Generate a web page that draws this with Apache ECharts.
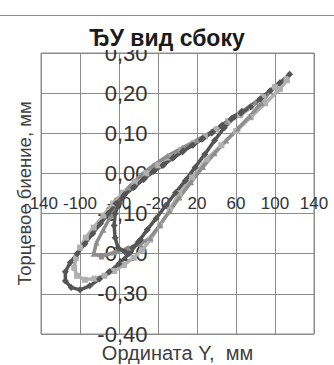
<!DOCTYPE html>
<html><head><meta charset="utf-8">
<script src="https://cdn.jsdelivr.net/npm/echarts@6/dist/echarts.min.js"></script>
<style>html,body{margin:0;padding:0;background:#fff}#c{width:334px;height:365px}</style>
</head><body><div id="c"></div>
<script>
const titleText = "ЂУ вид сбоку";
const xName = "Ордината Y,  мм";
const yName = "Торцевое биение, мм";
const xMin = -140, xMax = 140, xStep = 40;
const yMin = -0.4, yMax = 0.3, yStep = 0.1;

const lightX = [112,100,88,76,64,52,40,28,16,4,-8,-20,-32,-44,-56,-66,-76,-86,-94,-100,-104,-106,-103,-95,-85,-75,-65,-55,-45,-36,-28,-18,-8,2,15,30,45,60,75,90,105,112];
const lightY = [0.235,0.215,0.19,0.165,0.145,0.13,0.11,0.092,0.075,0.058,0.04,0.02,0.0,-0.022,-0.048,-0.075,-0.105,-0.135,-0.16,-0.185,-0.21,-0.235,-0.255,-0.265,-0.262,-0.255,-0.243,-0.228,-0.21,-0.19,-0.165,-0.13,-0.09,-0.05,-0.01,0.035,0.07,0.105,0.14,0.175,0.21,0.232];

const medX = [95,80,65,50,35,20,5,-10,-25,-38,-50,-60,-68,-76,-83,-86,-78,-65,-50,-38,-28,-18,-8,2,14,26,38,50,62,74,86,95];
const medY = [0.205,0.178,0.152,0.128,0.104,0.083,0.064,0.044,0.02,-0.005,-0.035,-0.07,-0.105,-0.14,-0.172,-0.2,-0.207,-0.197,-0.186,-0.176,-0.16,-0.128,-0.094,-0.06,-0.022,0.016,0.05,0.082,0.112,0.142,0.175,0.205];

const darkX = [115,105,95,85,75,65,55,45,35,25,15,5,-5,-15,-25,-35,-45,-55,-63,-71,-79,-87,-95,-103,-110,-115,-115,-109,-100,-90,-80,-70,-60,-50,-40,-31,-22,-12,-2,8,18,28,38,48,58,66,56,46,36,26,16,6,-4,-14,-24,-34,-44,-54,-60,-64,-65,-64,-61,-54,-46,-38];
const darkY = [0.247,0.226,0.206,0.186,0.166,0.15,0.135,0.118,0.101,0.085,0.07,0.054,0.038,0.02,0.005,-0.015,-0.035,-0.055,-0.075,-0.1,-0.125,-0.15,-0.175,-0.2,-0.222,-0.245,-0.268,-0.284,-0.29,-0.28,-0.263,-0.245,-0.225,-0.2,-0.17,-0.14,-0.112,-0.08,-0.048,-0.018,0.015,0.048,0.082,0.114,0.14,0.155,0.138,0.12,0.103,0.087,0.071,0.056,0.04,0.022,0.006,-0.013,-0.033,-0.052,-0.075,-0.1,-0.13,-0.16,-0.185,-0.195,-0.185,-0.165];

const zip = (xs, ys) => xs.map((x, i) => [x, ys[i]]);
const font = "'Liberation Sans', Arial, sans-serif";

const W = 334, H = 365;
const G = {left: 41, right: 20, top: 53, bottom: 31};
const gw = W - G.left - G.right, gh = H - G.top - G.bottom;
// place axes where the other axis passes zero (like Excel "crosses at 0")
const yAxisOffset = -gw * (0 - xMin) / (xMax - xMin);
const xAxisOffset = -gh * (0 - yMin) / (yMax - yMin);

const chart = echarts.init(document.getElementById('c'), null, {renderer: 'svg'});
chart.setOption({
  animation: false,
  backgroundColor: '#fff',
  title: {
    text: titleText, left: 'center', top: 26,
    padding: [0, 3, 0, 3],
    backgroundColor: '#fff',
    textStyle: {fontFamily: font, fontSize: 23, fontWeight: 'bold', color: '#1a1a1a', lineHeight: 24}
  },
  graphic: [{type: 'line', shape: {x1: 0, y1: 15.5, x2: 334, y2: 15.5}, style: {stroke: '#8c8c8c', lineWidth: 1}, silent: true}],
  grid: {left: G.left, right: G.right, top: G.top, bottom: G.bottom, show: true, borderColor: '#8c8c8c', borderWidth: 1,
    containLabel: false, outerBoundsMode: 'none'},
  xAxis: {
    type: 'value', min: xMin, max: xMax, interval: xStep, position: 'bottom', offset: xAxisOffset,
    name: xName, nameLocation: 'middle', nameGap: 170,
    nameTextStyle: {fontFamily: font, fontSize: 20, color: '#404040'},
    axisLine: {show: false, onZero: false},
    axisTick: {show: false},
    axisLabel: {margin: 22, fontFamily: font, fontSize: 17, color: '#333', showMinLabel: true, showMaxLabel: true, hideOverlap: false},
    splitLine: {show: true, lineStyle: {color: '#8c8c8c', width: 1}}
  },
  yAxis: {
    type: 'value', min: yMin, max: yMax, interval: yStep, position: 'left', offset: yAxisOffset,
    name: yName, nameLocation: 'middle', nameGap: 144, nameRotate: 90,
    nameTextStyle: {fontFamily: font, fontSize: 18.5, color: '#404040'},
    axisLine: {show: false, onZero: false},
    axisTick: {show: false},
    axisLabel: {margin: 30, fontFamily: font, fontSize: 22, color: '#333',
      formatter: v => v.toFixed(2).replace('.', ','), showMinLabel: true, showMaxLabel: true, hideOverlap: false},
    splitLine: {show: true, lineStyle: {color: '#8c8c8c', width: 1}}
  },
  series: [
    {type: 'line', name: 'light', data: zip(lightX, lightY), symbol: 'rect', symbolSize: 6, showAllSymbol: true,
      lineStyle: {color: '#b0b0b0', width: 3.5}, itemStyle: {color: '#b0b0b0'}},
    {type: 'line', name: 'medium', data: zip(medX, medY), symbol: 'triangle', symbolSize: 6, showAllSymbol: true,
      lineStyle: {color: '#8e8e8e', width: 3.5}, itemStyle: {color: '#8e8e8e'}},
    {type: 'line', name: 'dark', data: zip(darkX, darkY), symbol: 'diamond', symbolSize: 7, showAllSymbol: true,
      lineStyle: {color: '#555555', width: 3.5}, itemStyle: {color: '#555555'}}
  ]
});
</script>
</body></html>
